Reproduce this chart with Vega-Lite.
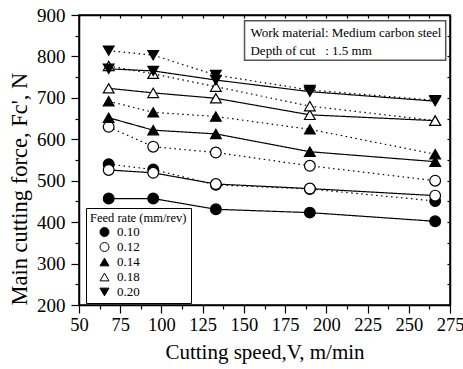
{
  "$schema": "https://vega.github.io/schema/vega-lite/v6.json",
  "width": 371,
  "height": 290,
  "autosize": {"type": "none"},
  "padding": {"left": 79, "top": 15, "right": 13, "bottom": 64},
  "background": "white",
  "data": {
    "values": [
      {"speed": 68, "force": 457, "feed": "0.10", "cond": "solid"},
      {"speed": 95, "force": 457, "feed": "0.10", "cond": "solid"},
      {"speed": 133, "force": 431, "feed": "0.10", "cond": "solid"},
      {"speed": 190, "force": 423, "feed": "0.10", "cond": "solid"},
      {"speed": 266, "force": 402, "feed": "0.10", "cond": "solid"},
      {"speed": 68, "force": 540, "feed": "0.10", "cond": "dotted"},
      {"speed": 95, "force": 527, "feed": "0.10", "cond": "dotted"},
      {"speed": 133, "force": 490, "feed": "0.10", "cond": "dotted"},
      {"speed": 190, "force": 480, "feed": "0.10", "cond": "dotted"},
      {"speed": 266, "force": 451, "feed": "0.10", "cond": "dotted"},
      {"speed": 68, "force": 526, "feed": "0.12", "cond": "solid"},
      {"speed": 95, "force": 519, "feed": "0.12", "cond": "solid"},
      {"speed": 133, "force": 492, "feed": "0.12", "cond": "solid"},
      {"speed": 190, "force": 481, "feed": "0.12", "cond": "solid"},
      {"speed": 266, "force": 464, "feed": "0.12", "cond": "solid"},
      {"speed": 68, "force": 630, "feed": "0.12", "cond": "dotted"},
      {"speed": 95, "force": 582, "feed": "0.12", "cond": "dotted"},
      {"speed": 133, "force": 568, "feed": "0.12", "cond": "dotted"},
      {"speed": 190, "force": 536, "feed": "0.12", "cond": "dotted"},
      {"speed": 266, "force": 500, "feed": "0.12", "cond": "dotted"},
      {"speed": 68, "force": 652, "feed": "0.14", "cond": "solid"},
      {"speed": 95, "force": 622, "feed": "0.14", "cond": "solid"},
      {"speed": 133, "force": 613, "feed": "0.14", "cond": "solid"},
      {"speed": 190, "force": 570, "feed": "0.14", "cond": "solid"},
      {"speed": 266, "force": 546, "feed": "0.14", "cond": "solid"},
      {"speed": 68, "force": 692, "feed": "0.14", "cond": "dotted"},
      {"speed": 95, "force": 665, "feed": "0.14", "cond": "dotted"},
      {"speed": 133, "force": 655, "feed": "0.14", "cond": "dotted"},
      {"speed": 190, "force": 624, "feed": "0.14", "cond": "dotted"},
      {"speed": 266, "force": 564, "feed": "0.14", "cond": "dotted"},
      {"speed": 68, "force": 723, "feed": "0.18", "cond": "solid"},
      {"speed": 95, "force": 712, "feed": "0.18", "cond": "solid"},
      {"speed": 133, "force": 699, "feed": "0.18", "cond": "solid"},
      {"speed": 190, "force": 659, "feed": "0.18", "cond": "solid"},
      {"speed": 266, "force": 645, "feed": "0.18", "cond": "solid"},
      {"speed": 68, "force": 777, "feed": "0.18", "cond": "dotted"},
      {"speed": 95, "force": 758, "feed": "0.18", "cond": "dotted"},
      {"speed": 133, "force": 727, "feed": "0.18", "cond": "dotted"},
      {"speed": 190, "force": 680, "feed": "0.18", "cond": "dotted"},
      {"speed": 266, "force": 645, "feed": "0.18", "cond": "dotted"},
      {"speed": 68, "force": 770, "feed": "0.20", "cond": "solid"},
      {"speed": 95, "force": 765, "feed": "0.20", "cond": "solid"},
      {"speed": 133, "force": 743, "feed": "0.20", "cond": "solid"},
      {"speed": 190, "force": 715, "feed": "0.20", "cond": "solid"},
      {"speed": 266, "force": 692, "feed": "0.20", "cond": "solid"},
      {"speed": 68, "force": 814, "feed": "0.20", "cond": "dotted"},
      {"speed": 95, "force": 803, "feed": "0.20", "cond": "dotted"},
      {"speed": 133, "force": 755, "feed": "0.20", "cond": "dotted"},
      {"speed": 190, "force": 719, "feed": "0.20", "cond": "dotted"},
      {"speed": 266, "force": 694, "feed": "0.20", "cond": "dotted"}
    ]
  },
  "resolve": {"axis": {"x": "independent", "y": "independent"}},
  "layer": [
    {
      "data": {"values": [{}]},
      "mark": {"type": "rect", "fill": "white", "stroke": "#555555", "strokeWidth": 1.5},
      "encoding": {
        "x": {"datum": 150.4, "type": "quantitative", "scale": {"domain": [50, 275], "nice": false}, "axis": null},
        "x2": {"datum": 272.4},
        "y": {"datum": 886, "type": "quantitative", "scale": {"domain": [200, 900], "nice": false}, "axis": null},
        "y2": {"datum": 791}
      }
    },
    {
      "data": {"values": [{"t": "Work material: Medium carbon steel"}]},
      "mark": {"type": "text", "align": "left", "baseline": "middle", "fontSize": 13, "color": "black"},
      "encoding": {
        "x": {"datum": 154, "type": "quantitative", "axis": null},
        "y": {"datum": 857, "type": "quantitative", "axis": null},
        "text": {"field": "t"}
      }
    },
    {
      "data": {"values": [{"t": "Depth of cut\u00a0\u00a0\u00a0: 1.5 mm"}]},
      "mark": {"type": "text", "align": "left", "baseline": "middle", "fontSize": 13, "color": "black"},
      "encoding": {
        "x": {"datum": 154, "type": "quantitative", "axis": null},
        "y": {"datum": 814, "type": "quantitative", "axis": null},
        "text": {"field": "t"}
      }
    },
    {
      "mark": {"type": "line", "color": "black", "strokeWidth": 1.2},
      "encoding": {
        "x": {"field": "speed", "type": "quantitative",
          "axis": {"orient": "bottom", "title": "Cutting speed,V, m/min", "titleFontSize": 21, "labelFontSize": 18.5, "titlePadding": 8,
            "values": [50, 62.5, 75, 87.5, 100, 112.5, 125, 137.5, 150, 162.5, 175, 187.5, 200, 212.5, 225, 237.5, 250, 262.5, 275],
            "labelExpr": "datum.value % 25 === 0 ? datum.label : ''", "labelOverlap": false, "labelFlush": false, "labelPadding": 2,
            "tickSize": {"condition": {"test": "datum.value % 25 === 0", "value": 8}, "value": 4}}},
        "y": {"field": "force", "type": "quantitative",
          "axis": {"orient": "left", "title": "Main cutting force, Fc', N", "titleFontSize": 22.5, "labelFontSize": 19, "titlePadding": 5, "titleAnchor": "start",
            "values": [200, 250, 300, 350, 400, 450, 500, 550, 600, 650, 700, 750, 800, 850, 900],
            "labelExpr": "datum.value % 100 === 0 ? datum.label : ''", "labelOverlap": false, "labelFlush": false, "labelPadding": 6,
            "tickSize": {"condition": {"test": "datum.value % 100 === 0", "value": 8}, "value": 4}}},
        "detail": {"field": "feed"},
        "strokeDash": {"field": "cond", "type": "nominal", "scale": {"domain": ["solid", "dotted"], "range": [[1, 0], [1.5, 3.5]]}, "legend": null}
      }
    },
    {
      "mark": {"type": "point", "filled": true, "strokeWidth": 1.2, "size": 115, "opacity": 1},
      "encoding": {
        "x": {"field": "speed", "type": "quantitative",
          "axis": {"orient": "top", "labels": false, "title": null, "values": [50, 62.5, 75, 87.5, 100, 112.5, 125, 137.5, 150, 162.5, 175, 187.5, 200, 212.5, 225, 237.5, 250, 262.5, 275], "tickSize": -3}},
        "y": {"field": "force", "type": "quantitative",
          "axis": {"orient": "right", "labels": false, "title": null, "values": [200, 250, 300, 350, 400, 450, 500, 550, 600, 650, 700, 750, 800, 850, 900], "tickSize": -3}},
        "shape": {"field": "feed", "type": "nominal", "title": "Feed rate (mm/rev)",
          "scale": {"domain": ["0.10", "0.12", "0.14", "0.18", "0.20"], "range": ["circle", "circle", "triangle-up", "triangle-up", "triangle-down"]}},
        "fill": {"field": "feed", "type": "nominal", "title": "Feed rate (mm/rev)",
          "scale": {"domain": ["0.10", "0.12", "0.14", "0.18", "0.20"], "range": ["black", "white", "black", "white", "black"]}},
        "stroke": {"field": "feed", "type": "nominal", "title": "Feed rate (mm/rev)",
          "scale": {"domain": ["0.10", "0.12", "0.14", "0.18", "0.20"], "range": ["black", "black", "black", "black", "black"]}}
      }
    }
  ],
  "config": {
    "font": "Liberation Serif",
    "view": {"stroke": "black", "strokeWidth": 1.5},
    "axis": {"domainColor": "black", "domainWidth": 1.5, "tickColor": "black", "tickWidth": 1.2, "labelColor": "black", "titleColor": "black", "grid": false, "labelFont": "Liberation Serif", "titleFont": "Liberation Serif", "titleFontWeight": "normal"},
    "legend": {
      "orient": "none", "legendX": 7, "legendY": 193,
      "strokeColor": "black", "fillColor": "white", "padding": 4,
      "titleFontSize": 12.5, "titleFontWeight": "normal", "titleColor": "black", "titleFont": "Liberation Serif", "titlePadding": 1,
      "labelFontSize": 13, "labelColor": "black", "labelFont": "Liberation Serif",
      "symbolSize": 80, "symbolStrokeWidth": 1, "symbolOffset": 8, "rowPadding": 1, "labelOffset": 6
    }
  }
}
